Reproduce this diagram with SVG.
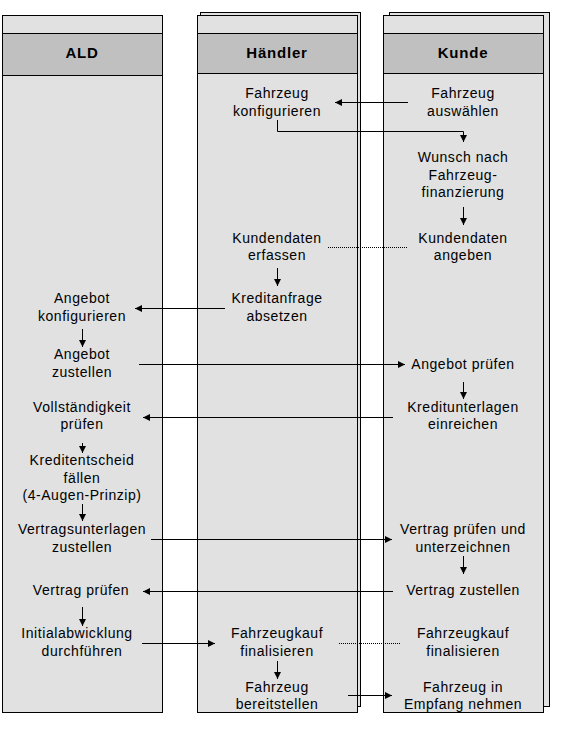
<svg xmlns="http://www.w3.org/2000/svg" width="561" height="738" viewBox="0 0 561 738">
<style>
.lane{fill:#e1e1e1;stroke:#000;stroke-width:1}
.band{fill:#c0c0c0;stroke:#000;stroke-width:1}
.t{font-family:"Liberation Sans",Arial,sans-serif;font-size:14px;letter-spacing:0.55px;text-anchor:middle;fill:#000}
.h{font-family:"Liberation Sans",Arial,sans-serif;font-size:15px;font-weight:bold;letter-spacing:0.8px;text-anchor:middle;fill:#000}
.c{fill:none;stroke:#000;stroke-width:1}
.a{marker-end:url(#arr)}
.d{fill:none;stroke:#000;stroke-width:1;stroke-dasharray:1 1}
</style>
<defs>
<marker id="arr" markerUnits="userSpaceOnUse" markerWidth="8" markerHeight="8" refX="7" refY="3.5" orient="auto">
<path d="M0,0 L7,3.5 L0,7 z" fill="#000"/>
</marker>
</defs>
<rect width="561" height="738" fill="#fff"/>
<g id="lane-ald">
<rect class="lane" x="2.5" y="15.5" width="160" height="697"/>
<rect class="band" x="2.5" y="33.5" width="160" height="42"/>
<text class="h" x="82" y="57.5">ALD</text>
</g>
<g id="lane-haendler">
<rect class="lane" x="200.5" y="12.5" width="160" height="694"/>
<rect class="lane" x="197.5" y="15.5" width="160" height="697"/>
<rect class="band" x="197.5" y="33.5" width="160" height="40"/>
<text class="h" x="277" y="57.5">Händler</text>
</g>
<g id="lane-kunde">
<rect class="lane" x="389.5" y="12.5" width="160" height="694"/>
<rect class="lane" x="383.5" y="15.5" width="160" height="697"/>
<rect class="band" x="383.5" y="33.5" width="160" height="40"/>
<text class="h" x="463" y="57.5">Kunde</text>
</g>
<g id="connectors">
<line class="c a" x1="408" y1="102.5" x2="335" y2="102.5"/>
<path class="c a" d="M277.5,120 V131.5 H463.5 V142"/>
<line class="c a" x1="463.5" y1="207" x2="463.5" y2="225"/>
<line class="d" x1="328" y1="247.5" x2="407" y2="247.5"/>
<line class="c a" x1="277.5" y1="268" x2="277.5" y2="286"/>
<line class="c a" x1="225" y1="308.5" x2="135" y2="308.5"/>
<line class="c a" x1="82.5" y1="329" x2="82.5" y2="347"/>
<line class="c a" x1="139" y1="364.5" x2="405" y2="364.5"/>
<line class="c a" x1="463.5" y1="382" x2="463.5" y2="399"/>
<line class="c a" x1="393" y1="417.5" x2="143" y2="417.5"/>
<line class="c a" x1="82.5" y1="443" x2="82.5" y2="453"/>
<line class="c a" x1="82.5" y1="504" x2="82.5" y2="521"/>
<line class="c a" x1="151" y1="539.5" x2="392" y2="539.5"/>
<line class="c a" x1="463.5" y1="556" x2="463.5" y2="574"/>
<line class="c a" x1="393" y1="591.5" x2="143" y2="591.5"/>
<line class="c a" x1="82.5" y1="607" x2="82.5" y2="626"/>
<line class="c a" x1="142" y1="643.5" x2="215" y2="643.5"/>
<line class="d" x1="339" y1="643.5" x2="400" y2="643.5"/>
<line class="c a" x1="277.5" y1="661" x2="277.5" y2="679"/>
<line class="c a" x1="348" y1="695.5" x2="392" y2="695.5"/>
</g>
<g id="n-h-konfigurieren"><text class="t" x="277" y="98">Fahrzeug</text><text class="t" x="277" y="115.5">konfigurieren</text></g>
<g id="n-k-auswaehlen"><text class="t" x="463" y="98">Fahrzeug</text><text class="t" x="463" y="115.5">auswählen</text></g>
<g id="n-k-wunsch"><text class="t" x="463" y="162">Wunsch nach</text><text class="t" x="463" y="179.5">Fahrzeug-</text><text class="t" x="463" y="197">finanzierung</text></g>
<g id="n-h-kundendaten"><text class="t" x="277" y="242.5">Kundendaten</text><text class="t" x="277" y="260">erfassen</text></g>
<g id="n-k-kundendaten"><text class="t" x="463" y="242.5">Kundendaten</text><text class="t" x="463" y="260">angeben</text></g>
<g id="n-h-kreditanfrage"><text class="t" x="277" y="303">Kreditanfrage</text><text class="t" x="277" y="320.5">absetzen</text></g>
<g id="n-a-angebot-konf"><text class="t" x="82" y="303">Angebot</text><text class="t" x="82" y="320.5">konfigurieren</text></g>
<g id="n-a-angebot-zust"><text class="t" x="82" y="359">Angebot</text><text class="t" x="82" y="377">zustellen</text></g>
<g id="n-k-angebot-pruefen"><text class="t" x="463" y="368.5">Angebot prüfen</text></g>
<g id="n-a-vollst"><text class="t" x="82" y="411.5">Vollständigkeit</text><text class="t" x="82" y="429">prüfen</text></g>
<g id="n-k-kreditunterlagen"><text class="t" x="463" y="411.5">Kreditunterlagen</text><text class="t" x="463" y="429">einreichen</text></g>
<g id="n-a-kreditentscheid"><text class="t" x="82" y="465">Kreditentscheid</text><text class="t" x="82" y="482.5">fällen</text><text class="t" x="82" y="500">(4-Augen-Prinzip)</text></g>
<g id="n-a-vertragsunterlagen"><text class="t" x="82" y="533.5">Vertragsunterlagen</text><text class="t" x="82" y="551.5">zustellen</text></g>
<g id="n-k-vertrag-pruefen"><text class="t" x="463" y="533.5">Vertrag prüfen und</text><text class="t" x="463" y="551.5">unterzeichnen</text></g>
<g id="n-a-vertrag-pruefen"><text class="t" x="81" y="595">Vertrag prüfen</text></g>
<g id="n-k-vertrag-zustellen"><text class="t" x="463" y="595">Vertrag zustellen</text></g>
<g id="n-a-initial"><text class="t" x="77" y="638">Initialabwicklung</text><text class="t" x="82" y="656">durchführen</text></g>
<g id="n-h-fahrzeugkauf"><text class="t" x="277" y="638">Fahrzeugkauf</text><text class="t" x="277" y="656">finalisieren</text></g>
<g id="n-k-fahrzeugkauf"><text class="t" x="463" y="638">Fahrzeugkauf</text><text class="t" x="463" y="656">finalisieren</text></g>
<g id="n-h-bereitstellen"><text class="t" x="277" y="691.5">Fahrzeug</text><text class="t" x="277" y="708.5">bereitstellen</text></g>
<g id="n-k-empfang"><text class="t" x="463" y="691.5">Fahrzeug in</text><text class="t" x="463" y="708.5">Empfang nehmen</text></g>
</svg>
